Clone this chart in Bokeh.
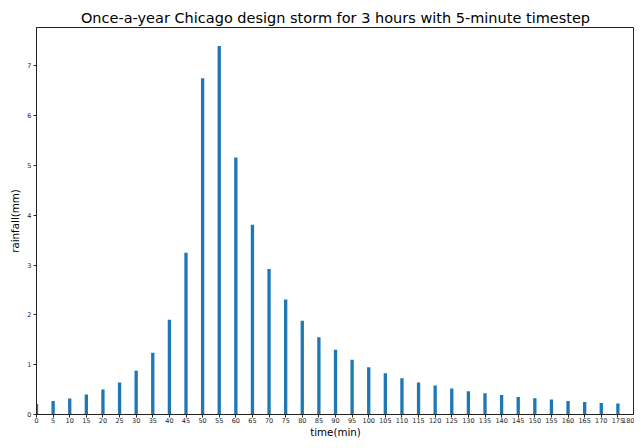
from bokeh.plotting import figure
from bokeh.models import FixedTicker, Range1d, ColumnDataSource
from bokeh.embed import file_html
from bokeh.resources import INLINE

time_min = [0, 5, 10, 15, 20, 25, 30, 35, 40, 45, 50, 55, 60, 65, 70, 75, 80, 85,
            90, 95, 100, 105, 110, 115, 120, 125, 130, 135, 140, 145, 150, 155, 160, 165, 170, 175]
rainfall_mm = [0.21, 0.27, 0.32, 0.40, 0.50, 0.64, 0.88, 1.24, 1.90, 3.25, 6.75, 7.40, 5.16, 3.81,
               2.92, 2.31, 1.88, 1.55, 1.30, 1.10, 0.95, 0.83, 0.73, 0.64, 0.58, 0.52, 0.465,
               0.425, 0.39, 0.35, 0.326, 0.30, 0.27, 0.25, 0.23, 0.22]
x_ticks = list(range(0, 181, 5))
y_ticks = [0, 1, 2, 3, 4, 5, 6, 7]
title_text = "Once-a-year Chicago design storm for 3 hours with 5-minute timestep"
x_label = "time(min)"
y_label = "rainfall(mm)"

FONT = "DejaVu Sans"

src = ColumnDataSource(dict(t=time_min, r=rainfall_mm))

p = figure(width=634, height=440, output_backend="svg", toolbar_location=None,
           x_range=Range1d(0, 180), y_range=Range1d(0, 7.77),
           min_border_left=36, min_border_right=0, min_border_top=27, min_border_bottom=24)

p.vbar(x="t", top="r", width=1.0, bottom=0, source=src, fill_color="#1f77b4", line_color=None)

p.title.text = title_text
p.title.text_font = FONT
p.title.text_font_size = "14.5px"
p.title.text_font_style = "normal"
p.title.text_color = "black"
p.title.align = "center"
p.title.standoff = 3

p.xgrid.visible = False
p.ygrid.visible = False
p.outline_line_color = "#222222"
p.outline_line_width = 1
p.background_fill_color = "white"
p.border_fill_color = "white"

for ax in (p.xaxis[0], p.yaxis[0]):
    ax.major_label_text_font = FONT
    ax.major_label_text_font_size = "6.5px"
    ax.major_label_text_color = "#222222"
    ax.axis_label_text_font = FONT
    ax.axis_label_text_font_size = "10.3px"
    ax.axis_label_text_font_style = "normal"
    ax.axis_label_text_color = "black"
    ax.axis_line_color = "#222222"
    ax.major_tick_line_color = "#222222"
    ax.major_tick_out = 3
    ax.major_tick_in = 0
    ax.minor_tick_line_color = None

p.xaxis[0].major_label_standoff = 0
p.xaxis[0].axis_label_standoff = 0
p.yaxis[0].major_label_standoff = 2
p.yaxis[0].axis_label_standoff = 3

p.xaxis[0].ticker = FixedTicker(ticks=x_ticks)
p.yaxis[0].ticker = FixedTicker(ticks=y_ticks)
p.xaxis[0].axis_label = x_label
p.yaxis[0].axis_label = y_label

open("out.html", "w").write(file_html(p, INLINE))
